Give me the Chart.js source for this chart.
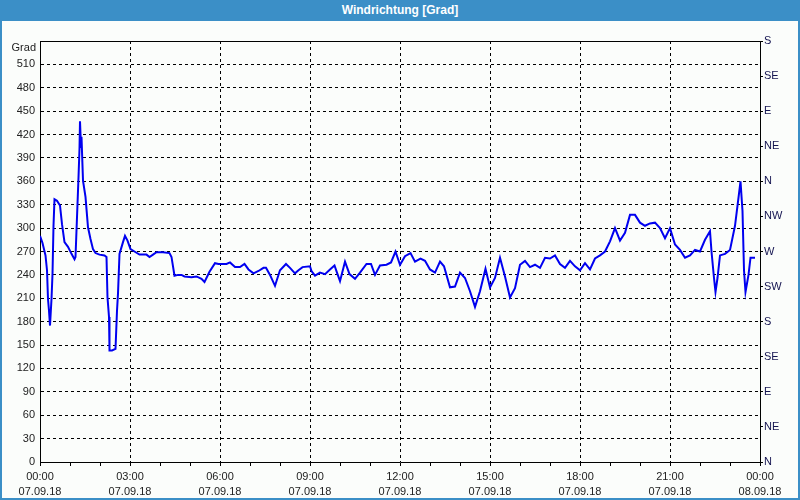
<!DOCTYPE html>
<html>
<head>
<meta charset="utf-8">
<script src="https://cdn.jsdelivr.net/npm/chart.js@4/dist/chart.umd.min.js"></script>
<style>
html,body{margin:0;padding:0;}
body{width:800px;height:500px;overflow:hidden;background:#fbfdfb;position:relative;}
#title{position:absolute;left:0;top:0;width:800px;height:21px;background:#3b8fc7;color:#fff;font:bold 12px "Liberation Sans",Arial,sans-serif;text-align:center;line-height:21px;}
#frame{position:absolute;left:0;top:0;width:800px;height:500px;box-sizing:border-box;border:2px solid #3b8fc7;border-top:none;pointer-events:none;}
#c{position:absolute;left:0;top:0;}
</style>
</head>
<body>
<div id="title">Windrichtung [Grad]</div>
<canvas id="c" width="800" height="500"></canvas>
<div id="frame"></div>
<script>
// time in minutes after 07.09.18 00:00
const timeMinutes = [
  0,5,11,14,16,18,20,23,25,27,29,34,40,44,49,56,63,69,71,75,77,79,80,82,83,86,91,96,101,106,111,119,129,133,135,138,139,144,151,154,156,159,166,170,175,181,189,199,213,219,226,233,246,259,263,269,276,283,289,303,313,323,329,339,
  350,357,373,380,390,400,409,417,427,437,447,452,460,470,480,492,500,510,517,525,540,543,550,560,570,580,589,595,600,610,619,630,640,653,662,670,680,693,702,711,
  720,730,741,750,761,770,780,790,800,808,820,830,840,850,860,870,880,891,900,910,920,930,940,950,960,970,980,990,1000,1010,1020,1030,1040,1050,
  1060,1070,1080,1090,1100,1110,1120,1130,1140,1150,1160,1170,1180,1190,1200,1210,1220,1230,1240,1250,1260,1270,1280,1290,1300,1310,1320,1330,1340,1343,1348,1351,1355,1360,1370,1380,1390,1397,1401,1405,1408,1411,1417,1421,1430
];
// wind direction in degrees
const windDeg = [
  290,281,265,246,209,194,175,209,241,303,337,335,329,305,282,276,267,260,263,331,365,402,437,404,417,361,340,301,286,273,268,266,265,263,211,186,143,143,145,194,216,267,282,290,284,273,270,266,266,263,266,269,269,268,263,239,240,240,238,237,238,235,231,244,
  255,254,254,256,250,250,254,247,242,245,249,249,240,226,246,254,249,242,246,250,251,245,239,243,241,247,252,241,232,257,241,235,243,254,254,240,252,253,256,270,
  253,264,268,257,261,258,247,243,257,251,224,225,243,236,219,199,219,248,224,236,262,238,211,223,253,258,250,253,249,262,261,265,254,249,
  258,251,246,255,247,261,265,270,283,300,284,294,317,317,307,303,306,307,300,287,300,279,272,262,265,272,270,285,296,270,236,218,236,265,267,272,303,339,360,322,246,218,240,262,262
];
const timeLabels = ['00:00','03:00','06:00','09:00','12:00','15:00','18:00','21:00','00:00'];
const dateLabels = ['07.09.18','07.09.18','07.09.18','07.09.18','07.09.18','07.09.18','07.09.18','07.09.18','08.09.18'];
const compassLabels = ['N','NE','E','SE','S','SW','W','NW','N','NE','E','SE','S'];
const yUnitLabel = 'Grad';

const tickFont = {family:'"Liberation Sans", Arial, sans-serif', size:11};

const framePlugin = {
  id:'frameTop',
  afterDraw(chart){
    const {ctx, chartArea:a} = chart;
    ctx.save();
    ctx.strokeStyle = '#000';
    ctx.lineWidth = 1;
    ctx.beginPath();
    ctx.moveTo(a.left, Math.round(a.top)+0.5);
    ctx.lineTo(a.right, Math.round(a.top)+0.5);
    ctx.stroke();
    ctx.fillStyle = '#222';
    ctx.font = '11px "Liberation Sans", Arial, sans-serif';
    ctx.textAlign = 'right';
    ctx.textBaseline = 'middle';
    ctx.fillText(yUnitLabel, a.left - 4, a.top + 7);
    ctx.restore();
  }
};

new Chart(document.getElementById('c'), {
  type:'line',
  data:{datasets:[{
    data: timeMinutes.map((t,i)=>({x:t, y:windDeg[i]})),
    borderColor:'#0000f0', borderWidth:2, pointRadius:0, tension:0, fill:false, yAxisID:'y'
  }]},
  options:{
    responsive:false, animation:false, devicePixelRatio:1,
    layout:{padding:{top:41,left:0,right:0,bottom:0}},
    plugins:{legend:{display:false}, tooltip:{enabled:false}, title:{display:false}},
    scales:{
      x:{
        type:'linear', position:'bottom', min:0, max:1440,
        afterFit(s){ s.height = 38; },
        ticks:{
          stepSize:60, maxTicksLimit:100, autoSkip:false, maxRotation:0, minRotation:0,
          padding:3, color:'#222', font:{...tickFont, lineHeight:1.4},
          callback(v){ return v % 180 === 0 ? [timeLabels[v/180], dateLabels[v/180]] : ''; }
        },
        grid:{
          drawOnChartArea:true, drawTicks:true, tickLength:4, tickColor:'#000', lineWidth:1,
          color(c){ const v = c.tick ? c.tick.value : -1; return (v % 180 === 0 && v > 0 && v < 1440) ? '#000' : 'rgba(0,0,0,0)'; }
        },
        border:{display:true, color:'#000', width:1, dash:[3,3]}
      },
      y:{
        type:'linear', position:'left', min:0, max:540,
        afterFit(s){ s.width = 40; },
        ticks:{
          stepSize:30, maxTicksLimit:100, autoSkip:false, padding:5, color:'#222', font:tickFont,
          callback(v){ return v === 540 ? '' : String(v); }
        },
        grid:{
          drawTicks:false, lineWidth:1,
          color(c){ const v = c.tick ? c.tick.value : -1; return (v > 0 && v < 540) ? '#000' : 'rgba(0,0,0,0)'; }
        },
        border:{display:true, color:'#000', width:1, dash:[3,3]}
      },
      y2:{
        type:'linear', position:'right', min:0, max:540,
        afterFit(s){ s.width = 40; },
        ticks:{
          stepSize:45, maxTicksLimit:100, autoSkip:false, padding:1, color:'#141450', font:tickFont,
          callback(v){ return compassLabels[Math.round(v/45)]; }
        },
        grid:{drawOnChartArea:false, drawTicks:true, tickLength:3, tickColor:'#000', color:'#000'},
        border:{display:true, color:'#000', width:1}
      }
    }
  },
  plugins:[framePlugin]
});
</script>
</body>
</html>
